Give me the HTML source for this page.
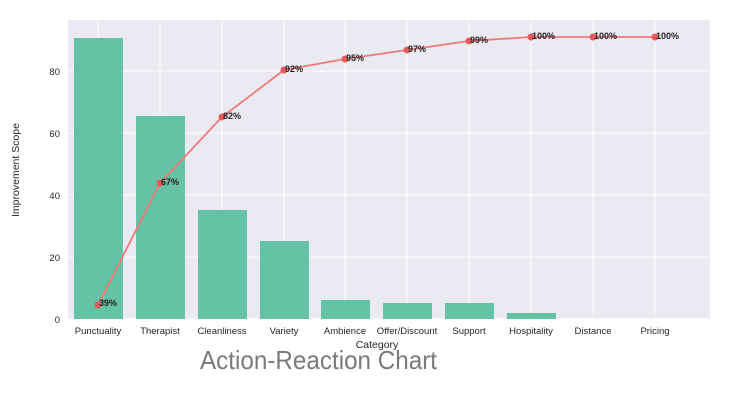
<!DOCTYPE html>
<html><head><meta charset="utf-8"><style>body{margin:0;background:#fff}svg{display:block}</style></head><body>
<svg width="741" height="408" xmlns="http://www.w3.org/2000/svg" font-family="Liberation Sans, sans-serif">
<rect x="68" y="20" width="642" height="299" fill="#eaeaf2"/>
<g stroke="#fff" stroke-width="1">
<line x1="68" x2="710" y1="319" y2="319"/><line x1="68" x2="710" y1="257" y2="257"/><line x1="68" x2="710" y1="195" y2="195"/><line x1="68" x2="710" y1="133" y2="133"/><line x1="68" x2="710" y1="71" y2="71"/>
<line x1="98" x2="98" y1="20" y2="319"/><line x1="160" x2="160" y1="20" y2="319"/><line x1="222" x2="222" y1="20" y2="319"/><line x1="284" x2="284" y1="20" y2="319"/><line x1="345" x2="345" y1="20" y2="319"/><line x1="407" x2="407" y1="20" y2="319"/><line x1="469" x2="469" y1="20" y2="319"/><line x1="531" x2="531" y1="20" y2="319"/><line x1="593" x2="593" y1="20" y2="319"/><line x1="655" x2="655" y1="20" y2="319"/>
</g>
<g fill="#66c2a5">
<rect x="74" y="38" width="49" height="281"/>
<rect x="136" y="116" width="49" height="203"/>
<rect x="198" y="210" width="49" height="109"/>
<rect x="260" y="241" width="49" height="78"/>
<rect x="321" y="300" width="49" height="19"/>
<rect x="383" y="303" width="49" height="16"/>
<rect x="445" y="303" width="49" height="16"/>
<rect x="507" y="313" width="49" height="6"/>
</g>
<polyline fill="none" stroke="#f07878" stroke-width="1.8" points="98,305 160,183 222,117 284,70 345,59 407,50 469,41 531,37 593,37 655,37"/>
<g fill="#e85a5a">
<circle cx="98" cy="305" r="3.5"/><circle cx="160" cy="183" r="3.5"/><circle cx="222" cy="117" r="3.5"/><circle cx="284" cy="70" r="3.5"/><circle cx="345" cy="59" r="3.5"/><circle cx="407" cy="50" r="3.5"/><circle cx="469" cy="41" r="3.5"/><circle cx="531" cy="37" r="3.5"/><circle cx="593" cy="37" r="3.5"/><circle cx="655" cy="37" r="3.5"/>
</g>
<g font-size="9" font-weight="bold" fill="#222">
<text x="99" y="306">39%</text><text x="161" y="185">67%</text><text x="223" y="119">82%</text><text x="285" y="72">92%</text><text x="346" y="61">95%</text><text x="408" y="52">97%</text><text x="470" y="43">99%</text><text x="532" y="39">100%</text><text x="594" y="39">100%</text><text x="656" y="39">100%</text>
</g>
<g font-size="9.5" fill="#262626" text-anchor="middle">
<text x="98" y="334">Punctuality</text><text x="160" y="334">Therapist</text><text x="222" y="334">Cleanliness</text><text x="284" y="334">Variety</text><text x="345" y="334">Ambience</text><text x="407" y="334">Offer/Discount</text><text x="469" y="334">Support</text><text x="531" y="334">Hospitality</text><text x="593" y="334">Distance</text><text x="655" y="334">Pricing</text>
</g>
<g font-size="9.5" fill="#262626" text-anchor="end">
<text x="60" y="323">0</text><text x="60" y="261">20</text><text x="60" y="199">40</text><text x="60" y="137">60</text><text x="60" y="75">80</text>
</g>
<text x="377" y="348" font-size="10.5" fill="#262626" text-anchor="middle">Category</text>
<text transform="translate(19,170) rotate(-90)" font-size="10.5" fill="#262626" text-anchor="middle">Improvement Scope</text>
<text x="200" y="369" font-size="26" fill="#7a7a7a" textLength="237" lengthAdjust="spacingAndGlyphs">Action-Reaction Chart</text>
</svg>
</body></html>
